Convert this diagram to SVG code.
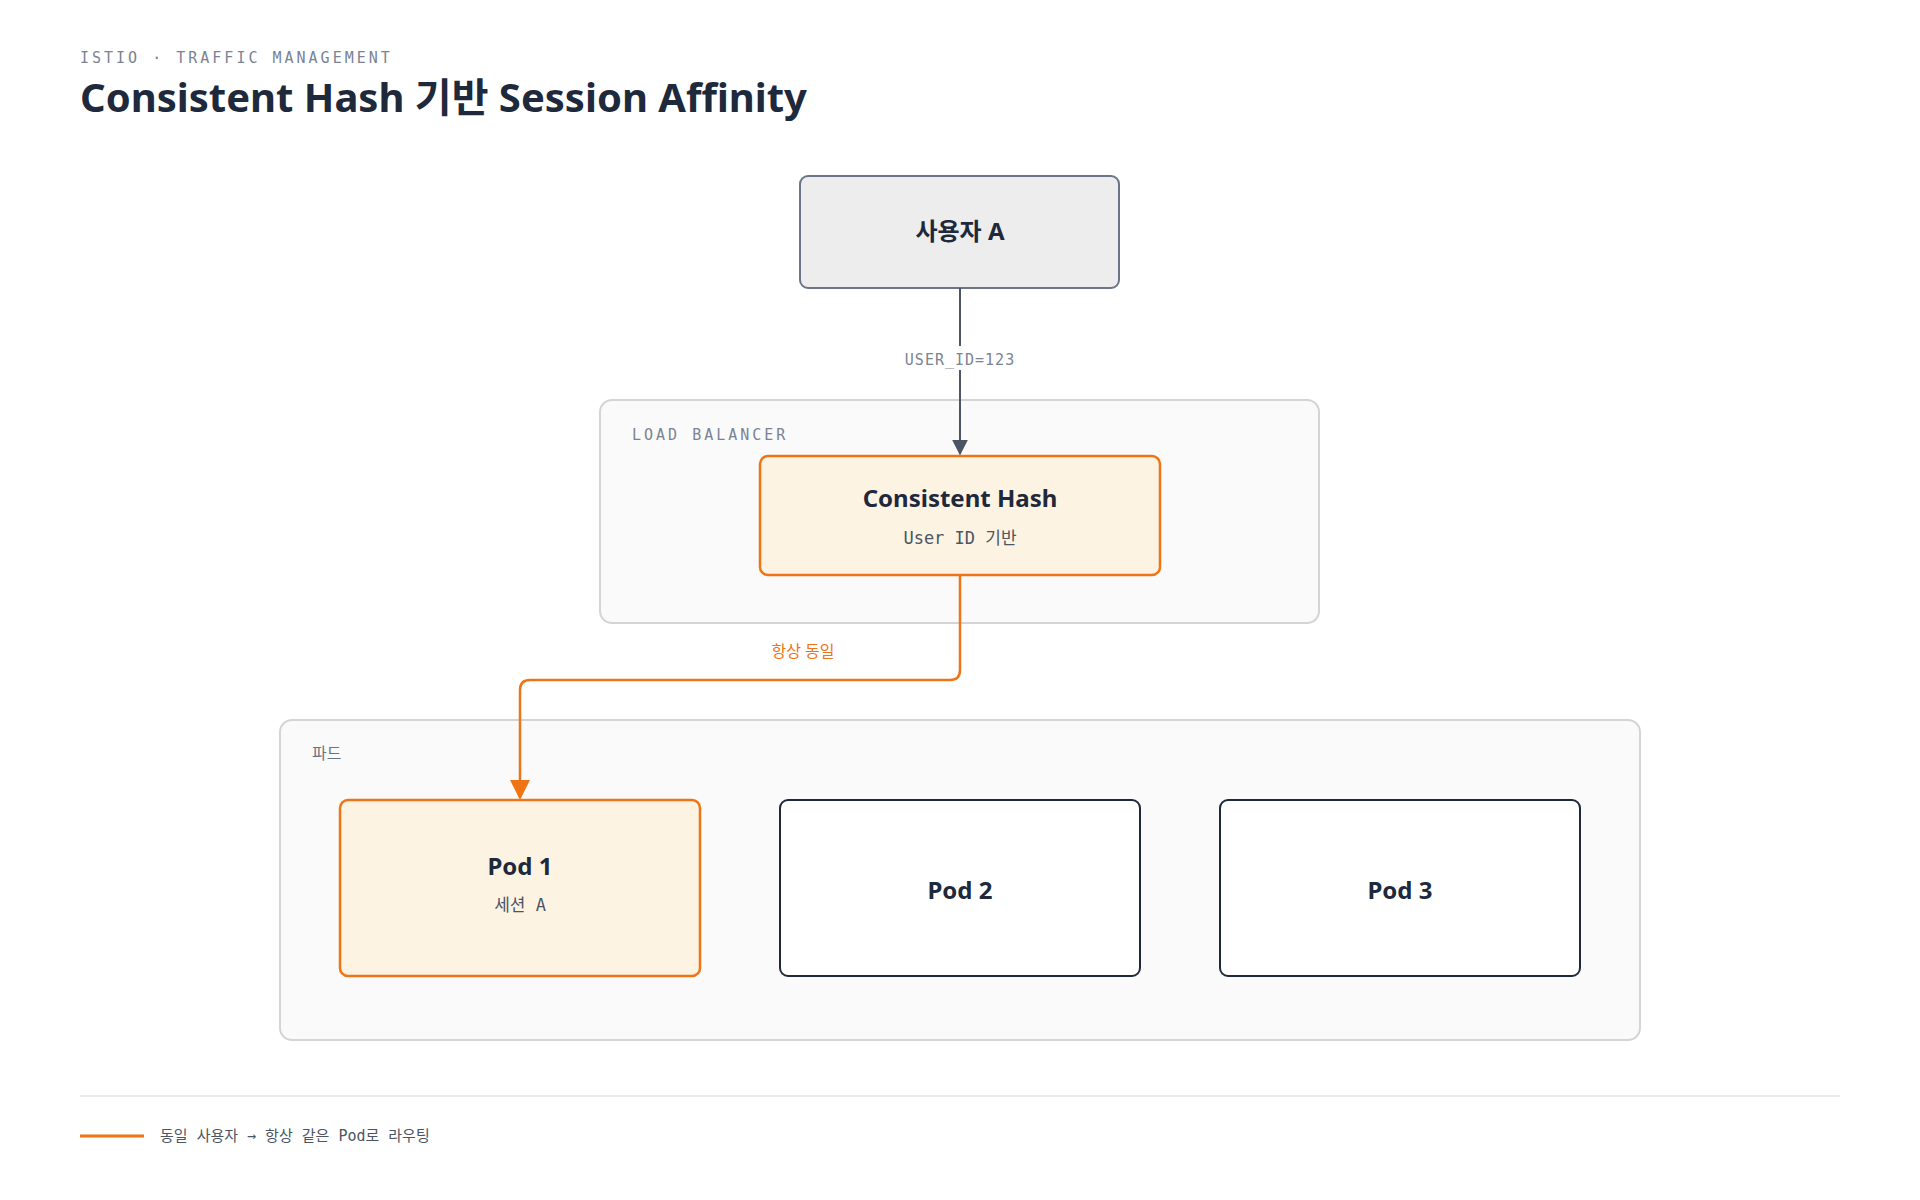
<svg xmlns="http://www.w3.org/2000/svg" width="1920" height="1200" viewBox="0 0 1920 1200">
<defs>
<style>
.sans{font-family:"Noto Sans","Noto Sans CJK KR",sans-serif}
.mono{font-family:"DejaVu Sans Mono","Liberation Mono","Noto Sans CJK KR",monospace}
.cap{font-size:15px;fill:#7a8394;letter-spacing:3px}
.ttl{font-size:24px;font-weight:700;fill:#1e293b;text-anchor:middle}
.sub{font-size:17px;fill:#4b5563;text-anchor:middle}
.grp{fill:#fafafa;stroke:#d4d4d4;stroke-width:2}
.hl{fill:#fdf3e3;stroke:#ef7415;stroke-width:2.5}
.pl{fill:#fff;stroke:#1e293b;stroke-width:2}
</style>
<marker id="ag" viewBox="0 0 10 10" refX="9" refY="5" markerWidth="8" markerHeight="8" orient="auto"><path d="M0,0L10,5L0,10z" fill="#4b5563"/></marker>
<marker id="ao" viewBox="0 0 10 10" refX="9" refY="5" markerWidth="8" markerHeight="8" orient="auto"><path d="M0,0L10,5L0,10z" fill="#ef7415"/></marker>
</defs>
<rect width="1920" height="1200" fill="#fff"/>
<text x="80" y="63" class="mono cap">ISTIO · TRAFFIC MANAGEMENT</text>
<text x="80" y="112" class="sans" font-size="40" font-weight="700" fill="#1e293b">Consistent Hash 기반 Session Affinity</text>

<g id="lb-group"><rect x="600" y="400" width="719" height="223" rx="12" class="grp"/><text x="632" y="440" class="mono cap">LOAD BALANCER</text></g>
<g id="pods-group"><rect x="280" y="720" width="1360" height="320" rx="12" class="grp"/><text x="312" y="759" class="sans" font-size="16" fill="#6b7280">파드</text></g>

<g id="userA"><rect x="800" y="176" width="319" height="112" rx="8" fill="#ededed" stroke="#6b7587" stroke-width="2"/><text x="960" y="240" class="sans ttl">사용자 A</text></g>
<g id="hash"><rect x="760" y="456" width="400" height="119" rx="8" class="hl"/><text x="960" y="507" class="sans ttl">Consistent Hash</text><text x="960" y="544" class="mono sub">User ID 기반</text></g>
<g id="pod1"><rect x="340" y="800" width="360" height="176" rx="8" class="hl"/><text x="520" y="875" class="sans ttl">Pod 1</text><text x="520" y="911" class="mono sub">세션 A</text></g>
<g id="pod2"><rect x="780" y="800" width="360" height="176" rx="8" class="pl"/><text x="960" y="899" class="sans ttl">Pod 2</text></g>
<g id="pod3"><rect x="1220" y="800" width="360" height="176" rx="8" class="pl"/><text x="1400" y="899" class="sans ttl">Pod 3</text></g>

<g id="connectors">
<path d="M960,288V454" stroke="#4b5563" stroke-width="2" fill="none" marker-end="url(#ag)"/>
<rect x="895" y="346" width="130" height="24" fill="#fff"/>
<text x="960" y="365" class="mono" font-size="15" fill="#7a8394" text-anchor="middle" letter-spacing="1">USER_ID=123</text>
<path d="M960,575V670Q960,680 950,680H530Q520,680 520,690V798" stroke="#ef7415" stroke-width="2.5" fill="none" marker-end="url(#ao)"/>
<text x="803" y="657" class="sans" font-size="16" fill="#ef7415" text-anchor="middle">항상 동일</text>
</g>

<line x1="80" y1="1096" x2="1840" y2="1096" stroke="#ececec" stroke-width="2"/>
<line x1="80" y1="1136" x2="144" y2="1136" stroke="#ef7415" stroke-width="3"/>
<text x="160" y="1141" class="mono" font-size="15" fill="#4b5563">동일 사용자 → 항상 같은 Pod로 라우팅</text>
</svg>
